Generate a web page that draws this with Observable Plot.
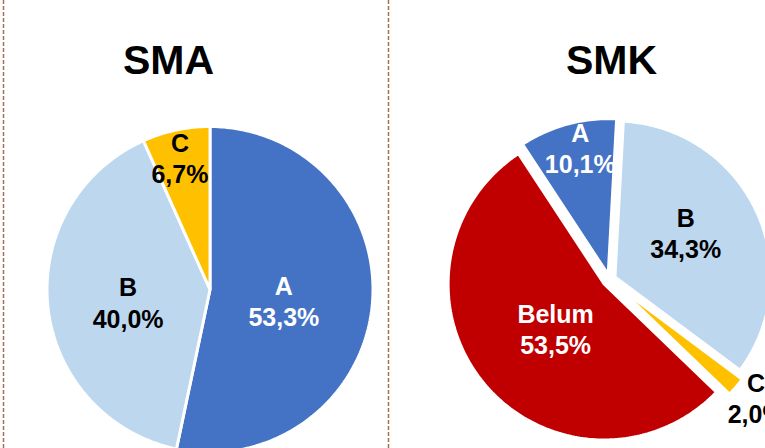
<!DOCTYPE html>
<html><head><meta charset="utf-8">
<script src="https://cdn.jsdelivr.net/npm/d3@7"></script>
<script src="https://cdn.jsdelivr.net/npm/@observablehq/plot@0.6"></script>
<style>html,body{margin:0;padding:0;background:#fff;overflow:hidden}</style>
</head><body><div id="chart"></div>
<script>
// ---- data ----
const titles = ["SMA", "SMK"];
const smaCategories = ["A", "B", "C"];
const smaValues = [53.3, 40.0, 6.7];
const smkCategories = ["A", "B", "C", "Belum"];
const smkValues = [10.1, 34.3, 2.0, 53.5];
const categoryColors = {A: "#4472C4", B: "#BDD7EE", C: "#FFC000", Belum: "#C00000"};
const labelColors = {A: "#ffffff", B: "#000000", C: "#000000", Belum: "#ffffff"};

// ---- layout ----
const W = 765, H = 448;
const FONT = "Liberation Sans, Arial, Helvetica, sans-serif";
const layout = [
  {cx: 209.5, cy: 289, r: 163, start: 0, titleX: 168,
   explode: {A: 0, B: 0, C: 0},
   label: {A: [100, 0.46], B: [260, 0.51], C: [347, 0.82]}},
  {cx: 609, cy: 279, r: 156, start: -33.3, titleX: 611,
   explode: {A: 5, B: 6, C: 10, Belum: 7},
   label: {A: [347.4, 0.82], B: [58.9, 0.53], C: [129.2, 1.15], Belum: [226.3, 0.43]}}
];
const series = [
  {title: titles[0], cats: smaCategories, vals: smaValues},
  {title: titles[1], cats: smkCategories, vals: smkValues}
];

const rad = d => d * Math.PI / 180;
const fmt = v => v.toFixed(1).replace(".", ",") + "%";

const polyPoints = [];
const labels = [];
const titleRows = [];
series.forEach((s, si) => {
  const L = layout[si];
  titleRows.push({x: L.titleX, y: 60, text: s.title});
  const arcs = d3.pie().sort(null)
    .startAngle(rad(L.start)).endAngle(rad(L.start) + 2 * Math.PI)(s.vals);
  arcs.forEach((a, i) => {
    const cat = s.cats[i];
    const key = s.title + "-" + cat;
    const mid = (a.startAngle + a.endAngle) / 2;
    const e = L.explode[cat] || 0;
    const ax = L.cx + e * Math.sin(mid), ay = L.cy - e * Math.cos(mid);
    polyPoints.push({key, x: ax, y: ay, color: categoryColors[cat]});
    const n = Math.max(2, Math.ceil((a.endAngle - a.startAngle) / rad(1)));
    for (let k = 0; k <= n; k++) {
      const t = a.startAngle + (a.endAngle - a.startAngle) * k / n;
      polyPoints.push({key, x: ax + L.r * Math.sin(t), y: ay - L.r * Math.cos(t), color: categoryColors[cat]});
    }
    const [ang, frac] = L.label[cat];
    labels.push({
      x: ax + frac * L.r * Math.sin(rad(ang)),
      y: ay - frac * L.r * Math.cos(rad(ang)) - 2,
      text: cat + "\n" + fmt(s.vals[i]),
      fill: labelColors[cat]
    });
  });
});

const dividers = [3, 388];

const chart = Plot.plot({
  width: W, height: H,
  margin: 0,
  x: {domain: [0, W], range: [0, W], axis: null},
  y: {domain: [0, H], range: [0, H], axis: null},
  color: {type: "identity"},
  style: {background: "#ffffff", fontFamily: FONT},
  marks: [
    Plot.ruleX(dividers, {stroke: "#a9714b", strokeWidth: 1.5, strokeDasharray: "4,2"}),
    Plot.line(polyPoints, {x: "x", y: "y", z: "key", fill: "color", stroke: "#ffffff",
      strokeWidth: 3, curve: "linear-closed", strokeLinejoin: "miter"}),
    Plot.text(labels, {x: "x", y: "y", text: "text", fill: "fill", fontSize: 25,
      fontWeight: "bold", lineHeight: 1.25, fontFamily: FONT}),
    Plot.text(titleRows, {x: "x", y: "y", text: "text", fill: "#000000", fontSize: 41,
      fontWeight: "bold", fontFamily: FONT})
  ]
});
document.getElementById("chart").appendChild(chart);
</script>
</body></html>
